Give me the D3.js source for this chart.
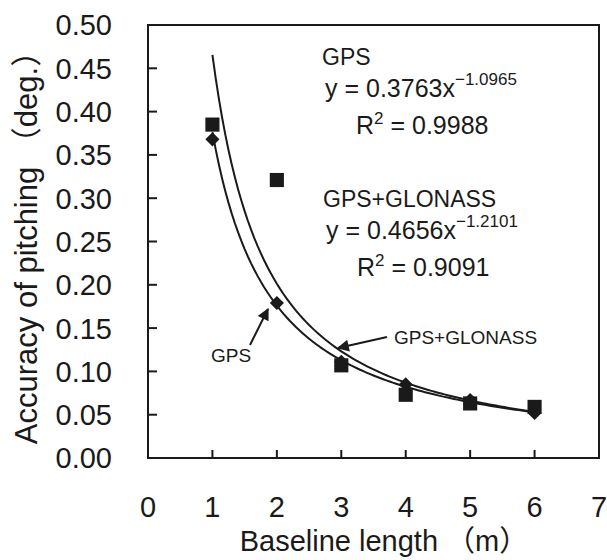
<!DOCTYPE html>
<html>
<head>
<meta charset="utf-8">
<script src="https://cdn.jsdelivr.net/npm/d3@7"></script>
<style>
  body { margin: 0; background: #fff; }
  svg text { font-family: "Liberation Sans", Arial, "Noto Sans CJK JP", sans-serif; fill: #1a1a1a; }
</style>
</head>
<body>
<div id="chart"></div>
<script>

// Baseline length (m)
let baselines = [1, 2, 3, 4, 5, 6];

// Accuracy of pitching (deg.)
let gpsValues = [0.368, 0.179, 0.111, 0.085, 0.067, 0.052];
let glonassValues = [0.385, 0.321, 0.107, 0.073, 0.063, 0.059];

// power fits y = a * x^b
let gpsFit = [0.3763, -1.0965];
let glonassFit = [0.4656, -1.2101];

let xTicks = [0, 1, 2, 3, 4, 5, 6, 7];
let yTicks = [0, 0.05, 0.10, 0.15, 0.20, 0.25, 0.30, 0.35, 0.40, 0.45, 0.50];

let margin = {top: 25, right: 8, bottom: 102, left: 148};
let width = 607 - margin.left - margin.right;
let height = 560 - margin.top - margin.bottom;

let svg = d3.select("#chart").append("svg")
	.attr("width", 607)
	.attr("height", 560);

let g = svg.append("g")
	.attr("transform", "translate(" + margin.left + "," + margin.top + ")");

// Scales
let x = d3.scaleLinear().domain([0, 7]).range([0, width]);
let y = d3.scaleLinear().domain([0, 0.5]).range([height, 0]);

// frame
g.append("rect")
	.attr("x", 0).attr("y", 0)
	.attr("width", width).attr("height", height)
	.attr("fill", "none")
	.attr("stroke", "#1a1a1a")
	.attr("stroke-width", 2);

// inner ticks
g.selectAll(".ytick").data(yTicks.slice(1, -1)).enter().append("line")
	.attr("x1", 0).attr("x2", 9)
	.attr("y1", d => y(d)).attr("y2", d => y(d))
	.attr("stroke", "#1a1a1a").attr("stroke-width", 2);

g.selectAll(".xtick").data(xTicks.slice(1, -1)).enter().append("line")
	.attr("x1", d => x(d)).attr("x2", d => x(d))
	.attr("y1", height).attr("y2", height - 8)
	.attr("stroke", "#1a1a1a").attr("stroke-width", 2);

// tick labels
g.selectAll(".ylab").data(yTicks).enter().append("text")
	.attr("x", -36)
	.attr("y", d => y(d))
	.attr("dy", "0.36em")
	.attr("text-anchor", "end")
	.attr("font-size", 29)
	.text(d => d3.format(".2f")(d));

g.selectAll(".xlab").data(xTicks).enter().append("text")
	.attr("x", d => x(d))
	.attr("y", height + 59)
	.attr("text-anchor", "middle")
	.attr("font-size", 29)
	.text(d => d);

// axis titles
svg.append("text")
	.attr("transform", "translate(37,240) rotate(-90)")
	.attr("text-anchor", "middle")
	.attr("font-size", 31)
	.text("Accuracy of pitching （deg.）");

svg.append("text")
	.attr("x", 384)
	.attr("y", 551)
	.attr("text-anchor", "middle")
	.attr("font-size", 29)
	.text("Baseline length （m）");

// fitted curves
let xs = d3.range(1, 6.001, 0.05);
let line = d3.line().x(d => x(d[0])).y(d => y(d[1]));

[gpsFit, glonassFit].forEach(f => {
	g.append("path")
		.datum(xs.map(v => [v, f[0] * Math.pow(v, f[1])]))
		.attr("d", line)
		.attr("fill", "none")
		.attr("stroke", "#1a1a1a")
		.attr("stroke-width", 2);
});

// markers
g.selectAll(".diamond").data(baselines).enter().append("path")
	.attr("d", d3.symbol(d3.symbolSquare, 100))
	.attr("transform", (d, i) => "translate(" + x(d) + "," + y(gpsValues[i]) + ") rotate(45)")
	.attr("fill", "#1a1a1a");

g.selectAll(".square").data(baselines).enter().append("path")
	.attr("d", d3.symbol(d3.symbolSquare, 200))
	.attr("transform", (d, i) => "translate(" + x(d) + "," + y(glonassValues[i]) + ")")
	.attr("fill", "#1a1a1a");

// equations
function equation(tx, ty, name, a, b, r2) {
	let t = svg.append("g");
	t.append("text").attr("x", tx - 3).attr("y", ty).attr("font-size", 23).text(name);
	let eq = t.append("text").attr("x", tx).attr("y", ty + 32).attr("font-size", 25);
	eq.append("tspan").text("y = " + a + "x");
	eq.append("tspan").attr("dy", -12).attr("font-size", 17).text("−" + b);
	let r = t.append("text").attr("x", tx + 31).attr("y", ty + 69).attr("font-size", 25);
	r.append("tspan").text("R");
	r.append("tspan").attr("dy", -10).attr("font-size", 17).text("2");
	r.append("tspan").attr("dy", 10).text(" = " + r2);
}
equation(325, 65, "GPS", "0.3763", "1.0965", "0.9988");
equation(326, 207, "GPS+GLONASS", "0.4656", "1.2101", "0.9091");

// callout labels with arrows
svg.append("defs").append("marker")
	.attr("id", "arrow")
	.attr("viewBox", "0 0 10 10")
	.attr("refX", 9).attr("refY", 5)
	.attr("markerWidth", 7).attr("markerHeight", 6)
	.attr("orient", "auto")
	.append("path")
	.attr("d", "M0,0L10,5L0,10z")
	.attr("fill", "#1a1a1a");

svg.append("line")
	.attr("x1", 250).attr("y1", 345).attr("x2", 268).attr("y2", 309)
	.attr("stroke", "#1a1a1a").attr("stroke-width", 2)
	.attr("marker-end", "url(#arrow)");
svg.append("text").attr("x", 211).attr("y", 362).attr("font-size", 19).text("GPS");

svg.append("line")
	.attr("x1", 387).attr("y1", 337).attr("x2", 338).attr("y2", 348)
	.attr("stroke", "#1a1a1a").attr("stroke-width", 2)
	.attr("marker-end", "url(#arrow)");
svg.append("text").attr("x", 394).attr("y", 344).attr("font-size", 19).text("GPS+GLONASS");

</script>
</body>
</html>
